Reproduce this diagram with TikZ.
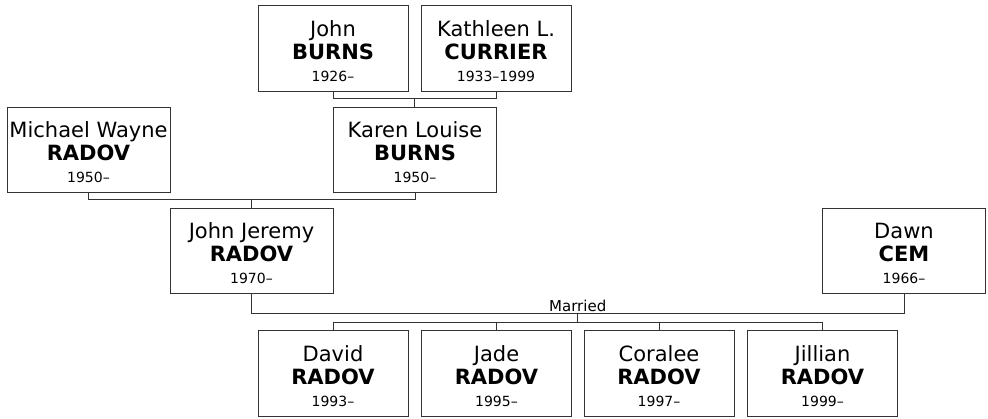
\documentclass[tikz,border=0pt]{standalone}
\usepackage{fontspec}
\setmainfont{DejaVu Sans}
\usetikzlibrary{calc}
\newcommand{\yr}[1]{{\fontsize{14}{16}\selectfont #1}}
\newcommand{\tp}{\rule{0pt}{22pt}}
\tikzset{
  person/.style={draw=black!80, line width=1pt, fill=white, align=center,
    minimum width=150pt, minimum height=86pt, inner sep=0pt,
    font=\fontsize{21}{24}\selectfont},
  wide/.style={minimum width=163pt, minimum height=85pt},
  link/.style={draw=black!80, line width=1pt},
}
\begin{document}
\begin{tikzpicture}[x=1pt,y=-1pt]
\useasboundingbox (0,0) rectangle (988,418);
% generation 1
\node[person] (jb) at (333,48) {\tp John\\[-1pt]\textbf{BURNS}\\[-2pt]\yr{1926–}};
\node[person] (kc) at (496,48) {\tp Kathleen L.\\[-1pt]\textbf{CURRIER}\\[-2pt]\yr{1933–1999}};
% generation 2
\node[person,wide] (mw) at (88.5,149.5) {\tp Michael Wayne\\[-1pt]\textbf{RADOV}\\[-2pt]\yr{1950–}};
\node[person,wide] (kb) at (415,149.5) {\tp Karen Louise\\[-1pt]\textbf{BURNS}\\[-2pt]\yr{1950–}};
% generation 3
\node[person,wide] (jj) at (251.5,250.5) {\tp John Jeremy\\[-1pt]\textbf{RADOV}\\[-2pt]\yr{1970–}};
\node[person,wide] (dc) at (904,250.5) {\tp Dawn\\[-1pt]\textbf{CEM}\\[-2pt]\yr{1966–}};
% generation 4
\node[person] (c1) at (333,373) {\tp David\\[-1pt]\textbf{RADOV}\\[-2pt]\yr{1993–}};
\node[person] (c2) at (496.5,373) {\tp Jade\\[-1pt]\textbf{RADOV}\\[-2pt]\yr{1995–}};
\node[person] (c3) at (659,373) {\tp Coralee\\[-1pt]\textbf{RADOV}\\[-2pt]\yr{1997–}};
\node[person] (c4) at (822.5,373) {\tp Jillian\\[-1pt]\textbf{RADOV}\\[-2pt]\yr{1999–}};
% couple 1
\draw[link] (jb.south) -- ++(0,7) coordinate (u1) -| (kc.south);
\coordinate (m1) at ($(u1)!0.5!(u1 -| kc.south)$);
\draw[link] (m1) -- (m1 |- kb.north);
% couple 2
\draw[link] (mw.south) -- ++(0,7) coordinate (u2) -| (kb.south);
\coordinate (m2) at ($(u2)!0.5!(u2 -| kb.south)$);
\draw[link] (m2) -- (m2 |- jj.north);
% couple 3
\draw[link] (jj.south) -- ++(0,20) coordinate (u3) -| (dc.south);
\coordinate (m3) at ($(u3)!0.5!(u3 -| dc.south)$);
\node[font=\fontsize{15}{17}\selectfont, anchor=south, inner sep=1.5pt] (lbl) at (m3) {Married};
\draw[link] (m3) -- ++(0,9) coordinate (cb);
\draw[link] (c1.north) -- (c1.north |- cb) -| (c4.north);
\draw[link] (c2.north) -- (c2.north |- cb);
\draw[link] (c3.north) -- (c3.north |- cb);
\end{tikzpicture}
\end{document}
